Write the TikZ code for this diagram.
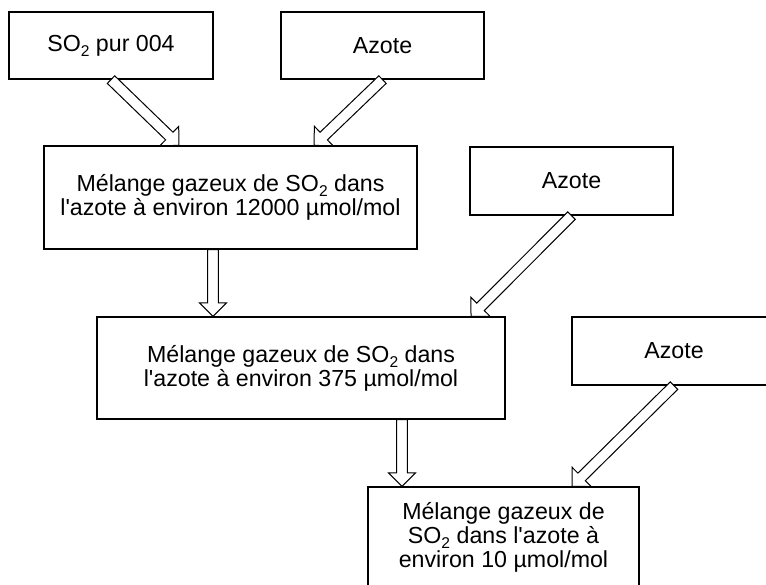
\documentclass[tikz,border=0pt]{standalone}
\usepackage{fontspec}
\setmainfont{Liberation Sans}
\usetikzlibrary{calc}

% lowered subscript, as in the drawing
\newcommand{\lowidx}[1]{\raisebox{-2.6pt}{\fontsize{7.8}{8}\selectfont #1}}

% hollow block arrow from #1 (tail) to #2 (tip)
\newcommand{\blockarrow}[2]{%
	\coordinate (hb) at ($(#2)!6.75pt!(#1)$);
	\draw[H] ($(#1)!2.65pt!90:(#2)$) -- ($(hb)!2.65pt!90:(#2)$) -- ($(hb)!6.75pt!90:(#2)$) -- (#2)
		-- ($(hb)!6.75pt!-90:(#2)$) -- ($(hb)!2.65pt!-90:(#2)$) -- ($(#1)!2.65pt!-90:(#2)$) -- cycle;%
}

\begin{document}
\begin{tikzpicture}[
	x = 0.5pt, y = -0.5pt, % one unit per pixel, y downwards
	B/.style={draw=black, line width=0.6pt, inner sep=0pt, align=center, font=\fontsize{11.6}{12}\selectfont},  % boxes
	H/.style={draw=black, fill=white, line width=0.5pt},                                                       % hollow arrows
	]
	\useasboundingbox (0,0) rectangle (766,584);
	\clip (0,0) rectangle (766,584);

	% Nodes and their positions
	\node[B, minimum width=102pt, minimum height=33.5pt]   (SO) at (111,45.5)   {SO\lowidx{2} pur 004};
	\node[B, minimum width=101.5pt, minimum height=33.5pt] (N1) at (382.5,45.5) {Azote};
	\node[B, minimum width=186.5pt, minimum height=51.5pt] (M1) at (230.5,197.5) {Mélange gazeux de SO\lowidx{2} dans\\l\textquotesingle azote à environ 12000 µmol/mol};
	\node[B, minimum width=101.5pt, minimum height=34pt]   (N2) at (571.5,181)  {Azote};
	\node[B, minimum width=204pt, minimum height=51pt]     (M2) at (301,368)    {Mélange gazeux de SO\lowidx{2} dans\\l\textquotesingle azote à environ 375 µmol/mol};
	\node[B, minimum width=102pt, minimum height=34pt]     (N3) at (674,351)    {Azote};
	\node[B, minimum width=135.5pt, minimum height=50pt]   (M3) at (503.5,537)  {Mélange gazeux de\\SO\lowidx{2} dans l\textquotesingle azote à\\environ 10 µmol/mol};

	% Arrow ends
	\coordinate (h1) at ([xshift=-25.75pt]M1.north);
	\coordinate (h2) at ([xshift=41.75pt]M1.north);
	\coordinate (t3) at ([xshift=-8.75pt]M1.south);
	\coordinate (h3) at (t3 |- M2.north);
	\coordinate (h4) at ([xshift=85pt]M2.north);
	\coordinate (t5) at ([xshift=50.5pt]M2.south);
	\coordinate (h5) at (t5 |- M3.north);
	\coordinate (h6) at ([xshift=34.25pt]M3.north);

	% Paths connecting nodes
	\blockarrow{SO.south}{h1}
	\blockarrow{N1.south}{h2}
	\blockarrow{t3}{h3}
	\blockarrow{N2.south}{h4}
	\blockarrow{t5}{h5}
	\blockarrow{N3.south}{h6}

\end{tikzpicture}
\end{document}
